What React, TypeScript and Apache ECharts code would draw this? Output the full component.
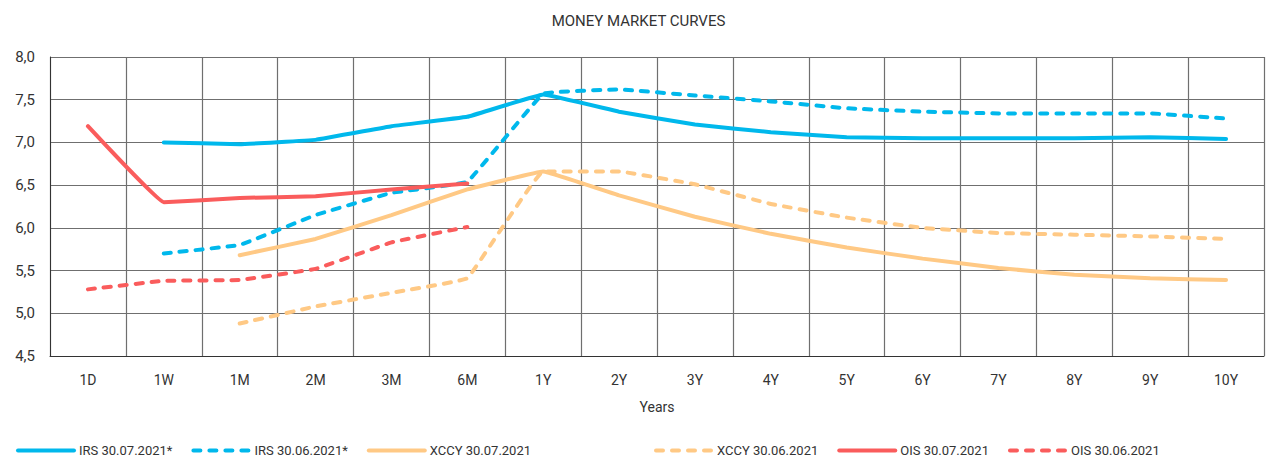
import React, { useEffect, useRef } from "react";
import * as echarts from "echarts";

const categories = ["1D", "1W", "1M", "2M", "3M", "6M", "1Y", "2Y", "3Y", "4Y", "5Y", "6Y", "7Y", "8Y", "9Y", "10Y"];
const irs0730 = [null, 7.0, 6.98, 7.03, 7.19, 7.3, 7.56, 7.36, 7.21, 7.12, 7.06, 7.05, 7.05, 7.05, 7.06, 7.04];
const irs0630 = [null, 5.7, 5.8, 6.15, 6.41, 6.54, 7.57, 7.62, 7.55, 7.48, 7.4, 7.36, 7.34, 7.34, 7.34, 7.28];
const xccy0730 = [null, null, 5.68, 5.87, 6.15, 6.45, 6.66, 6.38, 6.13, 5.93, 5.77, 5.64, 5.53, 5.45, 5.41, 5.39];
const xccy0630 = [null, null, 4.88, 5.08, 5.24, 5.41, 6.66, 6.66, 6.51, 6.28, 6.12, 6.0, 5.94, 5.92, 5.9, 5.87];
const ois0730 = [7.19, 6.3, 6.35, 6.37, 6.45, 6.52, null, null, null, null, null, null, null, null, null, null];
const ois0630 = [5.28, 5.38, 5.39, 5.52, 5.83, 6.01, null, null, null, null, null, null, null, null, null, null];

const BLUE = "#00B8EC";
const ORANGE = "#FFC985";
const RED = "#FA5C5C";
const FONT = "Roboto";

export default function App() {
  const ref = useRef<HTMLDivElement>(null);
  useEffect(() => {
    if (!ref.current) return;
    const chart = echarts.init(ref.current, null, { renderer: "svg" });
    const mk = (name: string, data: (number | null)[], color: string, dashed: boolean) => ({
      name,
      type: "line",
      data,
      smooth: 0.06,
      showSymbol: false,
      symbol: "none",
      legendIcon: "none",
      connectNulls: false,
      lineStyle: {
        color,
        width: 4,
        type: dashed ? [7, 9] : "solid",
        cap: "round",
      },
      itemStyle: { color },
    });
    const legendCommon = {
      bottom: 4,
      padding: 0,
      itemWidth: 56,
      itemHeight: 14,
      itemGap: 19,
      itemStyle: { opacity: 0 },
      lineStyle: { width: 4 },
      textStyle: { fontFamily: FONT, fontSize: 13, color: "#333" },
    };
    chart.setOption({
      animation: false,
      title: {
        text: "MONEY MARKET CURVES",
        left: "center",
        top: 8,
        textStyle: { fontFamily: FONT, fontSize: 15, fontWeight: "normal", color: "#333" },
      },
      legend: [
        { ...legendCommon, left: 16, data: ["IRS 30.07.2021*", "IRS 30.06.2021*", "XCCY 30.07.2021"] },
        { ...legendCommon, left: 654, data: ["XCCY 30.06.2021", "OIS 30.07.2021", "OIS 30.06.2021"] },
      ],
      grid: { left: 50, right: 13, top: 57, bottom: 105, containLabel: false, show: false },
      xAxis: {
        type: "category",
        data: categories,
        boundaryGap: true,
        name: "Years",
        nameLocation: "middle",
        nameGap: 44,
        nameTextStyle: { fontFamily: FONT, fontSize: 14, color: "#333" },
        axisLine: { show: true, lineStyle: { color: "#333", width: 1 } },
        axisTick: { show: false },
        axisLabel: { fontFamily: FONT, fontSize: 14, color: "#333", margin: 17 },
        splitLine: { show: true, lineStyle: { color: "#6f6f6f", width: 1.2 } },
      },
      yAxis: {
        type: "value",
        min: 4.5,
        max: 8,
        interval: 0.5,
        axisLine: { show: true, lineStyle: { color: "#333", width: 1 } },
        axisTick: { show: false },
        axisLabel: {
          fontFamily: FONT,
          fontSize: 15,
          color: "#333",
          margin: 15,
          formatter: (v: number) => v.toFixed(1).replace(".", ","),
        },
        splitLine: { show: true, lineStyle: { color: "#6f6f6f", width: 1.2 } },
      },
      series: [
        mk("IRS 30.07.2021*", irs0730, BLUE, false),
        mk("IRS 30.06.2021*", irs0630, BLUE, true),
        mk("XCCY 30.07.2021", xccy0730, ORANGE, false),
        mk("XCCY 30.06.2021", xccy0630, ORANGE, true),
        mk("OIS 30.07.2021", ois0730, RED, false),
        mk("OIS 30.06.2021", ois0630, RED, true),
      ],
    });
    return () => chart.dispose();
  }, []);
  return <div ref={ref} style={{ width: 1277, height: 461, position: "absolute", left: 0, top: 0, background: "#fff" }} />;
}
